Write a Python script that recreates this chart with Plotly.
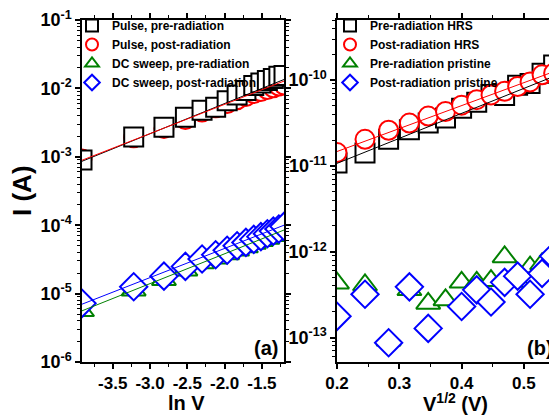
import numpy as np
import plotly.graph_objects as go

# ---------------- data ----------------
# Left panel (a): x = ln V, V from 0.02 V to 0.30 V
v_left = [0.02, 0.04, 0.06, 0.08, 0.10, 0.12, 0.14, 0.16, 0.18, 0.20, 0.22, 0.24, 0.26, 0.28, 0.30]
pulse_pre = [9.0e-4, 1.95e-3, 2.7e-3, 3.8e-3, 4.8e-3, 5.3e-3, 6.6e-3, 8.0e-3, 9.3e-3, 1.10e-2, 1.20e-2, 1.30e-2, 1.40e-2, 1.50e-2, 1.55e-2]
pulse_post = [9.3e-4, 1.90e-3, 2.6e-3, 3.5e-3, 4.5e-3, 5.2e-3, 6.0e-3, 6.8e-3, 7.6e-3, 8.4e-3, 9.0e-3, 9.6e-3, 1.02e-2, 1.08e-2, 1.12e-2]
dc_pre = [5.6e-6, 1.12e-5, 1.6e-5, 2.2e-5, 2.8e-5, 3.3e-5, 3.8e-5, 4.3e-5, 4.8e-5, 5.4e-5, 5.9e-5, 6.4e-5, 7.0e-5, 7.5e-5, 8.0e-5]
dc_post = [7.2e-6, 1.26e-5, 1.8e-5, 2.5e-5, 3.2e-5, 3.7e-5, 4.3e-5, 5.0e-5, 5.6e-5, 6.2e-5, 6.8e-5, 7.5e-5, 8.2e-5, 8.8e-5, 9.6e-5]
# linear fits, values at the first and last voltage
fit_pulse_pre = [8.6e-4, 1.35e-2]
fit_pulse_post = [8.9e-4, 1.28e-2]
fit_dc_pre = [5.6e-6, 8.5e-5]
fit_dc_post = [7.0e-6, 1.0e-4]

# Right panel (b): x = V^1/2, V from 0.04 V to 0.30 V
v_right = [0.04, 0.06, 0.08, 0.10, 0.12, 0.14, 0.16, 0.18, 0.20, 0.22, 0.24, 0.26, 0.28, 0.30]
hrs_pre = [1.08e-11, 1.41e-11, 2.04e-11, 2.63e-11, 3.16e-11, 3.6e-11, 4.7e-11, 5.5e-11, 6.8e-11, 6.6e-11, 8.7e-11, 9.1e-11, 1.2e-10, 1.5e-10]
hrs_post = [1.43e-11, 2.04e-11, 2.6e-11, 3.15e-11, 3.8e-11, 4.3e-11, 5.1e-11, 5.9e-11, 6.7e-11, 7.4e-11, 8.4e-11, 9.5e-11, 1.15e-10, 1.2e-10]
pristine_pre = [4.3e-13, 4.1e-13, 9.3e-14, 3.6e-13, 2.5e-13, 2.75e-13, 4.4e-13, 4.4e-13, 4.6e-13, 8.7e-13, 4.5e-13, 6.6e-13, 7.2e-13, 8.5e-13]
pristine_post = [1.77e-13, 3.2e-13, 8.7e-14, 3.9e-13, 1.28e-13, None, 2.3e-13, 3.6e-13, 2.6e-13, 4.4e-13, 5.2e-13, 3.2e-13, 5.6e-13, 8.9e-13]
fit_hrs_pre = [1.07e-11, 1.10e-10]
fit_hrs_post = [1.47e-11, 1.25e-10]

left_ticks = [-3.5, -3.0, -2.5, -2.0, -1.5]
left_ytick_exp = [-6, -5, -4, -3, -2, -1]
right_ticks = [0.2, 0.3, 0.4, 0.5]
right_ytick_exp = [-13, -12, -11, -10]

# ---------------- figure ----------------
W, H = 549, 417
FONT = "Liberation Sans, Arial, Helvetica, sans-serif"
BLACK, RED, GREEN, BLUE = "#000000", "#ff0000", "#008000", "#0000ff"

xl = np.log(v_left)
xr = np.sqrt(v_right)
xl_fit = [xl[0], xl[-1]]
xr_fit = [xr[0], xr[-1]]

fig = go.Figure()

def mk(x, y, name, symbol, color, size, xa, ya, legend, rank):
    fig.add_trace(go.Scatter(
        x=x, y=y, mode="markers", name=name, xaxis=xa, yaxis=ya,
        legend=legend, legendrank=rank,
        marker=dict(symbol=symbol, size=size, color="white",
                    line=dict(color=color, width=2)),
    ))

def ln(x, y, color, xa, ya):
    fig.add_trace(go.Scatter(x=x, y=y, mode="lines", showlegend=False,
                             xaxis=xa, yaxis=ya, line=dict(color=color, width=1)))

# left panel: circles under squares, triangles under diamonds
mk(xl, pulse_post, "Pulse, post-radiation", "circle", RED, 19, "x", "y", "legend", 2)
mk(xl, pulse_pre, "Pulse, pre-radiation", "square", BLACK, 19, "x", "y", "legend", 1)
mk(xl, dc_pre, "DC sweep, pre-radiation", "triangle-up", GREEN, 21, "x", "y", "legend", 3)
mk(xl, dc_post, "DC sweep, post-radiation", "diamond", BLUE, 21, "x", "y", "legend", 4)
ln(xl_fit, fit_pulse_pre, BLACK, "x", "y")
ln(xl_fit, fit_pulse_post, RED, "x", "y")
ln(xl_fit, fit_dc_pre, GREEN, "x", "y")
ln(xl_fit, fit_dc_post, BLUE, "x", "y")

# right panel: squares under circles
mk(xr, hrs_pre, "Pre-radiation HRS", "square", BLACK, 19, "x2", "y2", "legend2", 1)
mk(xr, hrs_post, "Post-radiation HRS", "circle", RED, 19, "x2", "y2", "legend2", 2)
mk(xr, pristine_pre, "Pre-radiation pristine", "triangle-up", GREEN, 21, "x2", "y2", "legend2", 3)
mk(xr, pristine_post, "Post-radiation pristine", "diamond", BLUE, 21, "x2", "y2", "legend2", 4)
ln(xr_fit, fit_hrs_pre, BLACK, "x2", "y2")
ln(xr_fit, fit_hrs_post, RED, "x2", "y2")

def log_minor(e0, e1):
    return [k * 10.0 ** e for e in range(e0, e1) for k in range(2, 10)]

ydom = [1 - 362 / H, 1 - 20 / H]
common = dict(showline=True, linecolor="black", linewidth=1.5, ticks="outside",
              ticklen=5, tickwidth=1.5, tickcolor="black", showgrid=False,
              zeroline=False, automargin=False)

fig.update_layout(
    width=W, height=H, margin=dict(l=0, r=0, t=0, b=0),
    paper_bgcolor="white", plot_bgcolor="white",
    font=dict(family=FONT, color="black", weight="bold"),
    xaxis=dict(domain=[82 / W, 284 / W], range=[np.log(0.02), np.log(0.30)],
               tickvals=left_ticks, ticktext=[f"{t:.1f}" for t in left_ticks],
               tickfont=dict(size=17, family=FONT, weight="bold"), mirror="allticks",
               minor=dict(dtick=0.25, tick0=-3.5, ticks="outside", ticklen=3,
                          tickcolor="black", tickwidth=1), anchor="y", **common),
    yaxis=dict(domain=ydom, type="log", range=[-6, -1],
               tickvals=[10.0 ** e for e in left_ytick_exp],
               ticktext=[f"10<sup>{e}</sup>" for e in left_ytick_exp],
               tickfont=dict(size=18, family=FONT, weight="bold"), mirror="allticks",
               minor=dict(tickvals=log_minor(-6, -1), ticks="outside", ticklen=3,
                          tickcolor="black", tickwidth=1), anchor="x", **common),
    xaxis2=dict(domain=[337 / W, 1.0], range=[0.2, 0.2 + 212 / 623],
                tickvals=right_ticks, ticktext=[f"{t:.1f}" for t in right_ticks],
                tickfont=dict(size=17, family=FONT, weight="bold"), mirror="allticks",
                minor=dict(dtick=0.05, tick0=0.2, ticks="outside", ticklen=3,
                           tickcolor="black", tickwidth=1), anchor="y2", **common),
    yaxis2=dict(domain=ydom, type="log", range=[np.log10(5.2e-14), np.log10(5e-10)],
                tickvals=[10.0 ** e for e in right_ytick_exp],
                ticktext=[f"10<sup>{e}</sup>" for e in right_ytick_exp],
                tickfont=dict(size=18, family=FONT, weight="bold"), mirror=False,
                minor=dict(tickvals=log_minor(-14, -9), ticks="outside", ticklen=3,
                           tickcolor="black", tickwidth=1), anchor="x2", **common),
    legend=dict(x=72 / W, y=1 - 11 / H, xanchor="left", yanchor="top",
                bgcolor="rgba(0,0,0,0)", font=dict(size=12, family=FONT, weight="bold"),
                itemsizing="constant", tracegroupgap=0),
    legend2=dict(x=330 / W, y=1 - 11 / H, xanchor="left", yanchor="top",
                 bgcolor="rgba(0,0,0,0)", font=dict(size=12, family=FONT, weight="bold"),
                 itemsizing="constant", tracegroupgap=0),
)

def ann(text, px, py, size, xanchor="center", yanchor="middle", angle=0):
    fig.add_annotation(text=text, x=px / W, y=1 - py / H, xref="paper", yref="paper",
                       xanchor=xanchor, yanchor=yanchor, showarrow=False, textangle=angle,
                       font=dict(size=size, family=FONT, weight="bold", color="black"))

ann("I (A)", 22, 191, 26, angle=-90)
ann("ln V", 186, 403, 20)
ann("V<sup>1/2</sup> (V)", 455, 402, 20)
ann("(a)", 280, 348, 20, xanchor="right")
ann("(b)", 525, 348, 20, xanchor="left")

fig.write_html("out.html", config={"displayModeBar": False},
               post_script="document.body.style.margin='0';document.body.style.overflow='hidden';")
